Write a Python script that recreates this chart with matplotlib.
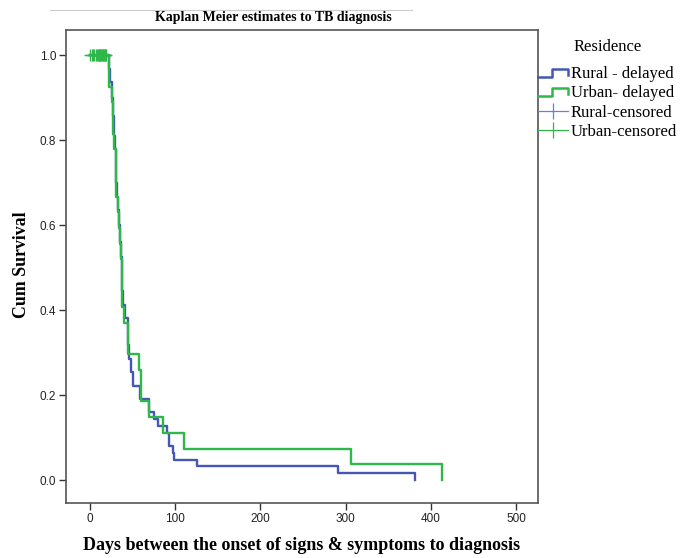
import matplotlib
matplotlib.use("Agg")
import matplotlib.pyplot as plt
from matplotlib.lines import Line2D
from matplotlib.legend_handler import HandlerBase, HandlerLine2D

# ---- data ----
rural_t = [0, 22, 24, 26, 27, 28, 29, 30, 31, 32, 33, 34, 35, 36, 37, 38, 39, 41, 44,
           45, 46, 48, 50, 59, 69, 75, 80, 90, 93, 97, 99, 126, 291, 381]
rural_s = [1.0, 0.968, 0.937, 0.90, 0.857, 0.81, 0.778, 0.73, 0.70, 0.667, 0.635, 0.60,
           0.56, 0.524, 0.476, 0.444, 0.413, 0.381, 0.349, 0.317, 0.286, 0.254, 0.222,
           0.190, 0.159, 0.143, 0.127, 0.111, 0.079, 0.063, 0.048, 0.032, 0.016, 0.0]
urban_t = [0, 22, 26, 27, 28, 30, 31, 33, 34, 35, 36, 37, 38, 40, 44, 57, 60, 69, 86,
           110, 306, 413]
urban_s = [1.0, 0.926, 0.89, 0.815, 0.778, 0.741, 0.667, 0.63, 0.593, 0.556, 0.519,
           0.444, 0.407, 0.370, 0.296, 0.259, 0.185, 0.148, 0.111, 0.074, 0.037, 0.0]
rural_cens = [3, 8, 12, 15, 18]
urban_cens = [0, 2, 5, 7, 9, 10, 11, 12, 13, 14, 15, 16, 17, 18, 19]

xticks = [0, 100, 200, 300, 400, 500]
yticks = [0.0, 0.2, 0.4, 0.6, 0.8, 1.0]
ytick_labels = ["0.0", "0.2", "0.4", "0.6", "0.8", "1.0"]
labels = ["Rural - delayed", "Urban- delayed", "Rural-censored", "Urban-censored"]
title = "Kaplan Meier estimates to TB diagnosis"
xlabel = "Days between the onset of signs & symptoms to diagnosis"
ylabel = "Cum Survival"
legend_title = "Residence"

blue = "#4457b4"
green = "#2fb84a"

W, H = 683, 558
fig = plt.figure(figsize=(W / 100, H / 100), dpi=100)
ax = fig.add_axes([66 / W, 1 - 503 / H, (538 - 66) / W, (503 - 30) / H])

ax.step(rural_t, rural_s, where="post", color=blue, lw=1.7)
ax.step(urban_t, urban_s, where="post", color=green, lw=1.7)
ax.plot(rural_cens, [1.0] * len(rural_cens), linestyle="none", marker="+",
        color="#6b7fd6", markersize=8, mew=1.0)
ax.plot(urban_cens, [1.0] * len(urban_cens), linestyle="none", marker="+",
        color=green, markersize=8, mew=1.0)

ax.set_xlim(-28.2, 525.8)
ax.set_ylim(-0.054, 1.059)
ax.set_xticks(xticks)
ax.set_yticks(yticks)
ax.set_yticklabels(ytick_labels)
for lab in ax.get_xticklabels() + ax.get_yticklabels():
    lab.set_fontfamily("Liberation Sans")
    lab.set_fontsize(8.5)
    lab.set_color("#222222")
ax.tick_params(direction="out", length=5, width=1.0, color="#333333", pad=2)
for sp in ax.spines.values():
    sp.set_color("#555555")
    sp.set_linewidth(1.2)

fig.text(273 / W, 1 - 17 / H, title, ha="center", va="center",
         fontfamily="Liberation Serif", fontweight="bold", fontsize=10)
fig.text(302 / W, 1 - 546 / H, xlabel, ha="center", va="center",
         fontfamily="Liberation Serif", fontweight="bold", fontsize=13)
fig.text(22 / W, 1 - 265 / H, ylabel, ha="center", va="center", rotation=90,
         fontfamily="Liberation Serif", fontweight="bold", fontsize=12.8)
fig.add_artist(Line2D([50 / W, 412 / W], [1 - 9.5 / H, 1 - 9.5 / H],
                      color="#cccccc", lw=0.8, transform=fig.transFigure))
fig.text(608 / W, 1 - 47 / H, legend_title, ha="center", va="center",
         fontfamily="Liberation Serif", fontsize=12)


class StepHandler(HandlerBase):
    def create_artists(self, legend, orig_handle, xdescent, ydescent,
                       width, height, fontsize, trans):
        x0 = -xdescent
        y0 = -ydescent
        xs = [x0, x0 + 0.45 * width, x0 + 0.45 * width, x0 + width, x0 + width]
        ys = [y0 + 0.1 * height, y0 + 0.1 * height, y0 + 0.8 * height,
              y0 + 0.8 * height, y0 + 0.3 * height]
        ln = Line2D(xs, ys, color=orig_handle.get_color(), lw=1.8)
        ln.set_transform(trans)
        return [ln]


h1 = Line2D([], [], color=blue)
h2 = Line2D([], [], color=green)
h3 = Line2D([], [], color="#6b7fd6", lw=0.9, marker="|", markersize=12, mew=0.9)
h4 = Line2D([], [], color=green, lw=0.9, marker="|", markersize=12, mew=0.9)
leg = fig.legend([h1, h2, h3, h4], labels, loc="upper left",
                 bbox_to_anchor=(538 / W, 1 - 66 / H), frameon=False,
                 borderaxespad=0, handlelength=1.8, handletextpad=0.18,
                 labelspacing=0.2, borderpad=0, numpoints=1,
                 handler_map={h1: StepHandler(), h2: StepHandler(),
                              h3: HandlerLine2D(numpoints=1), h4: HandlerLine2D(numpoints=1)},
                 prop={"family": "Liberation Serif", "size": 12})

fig.savefig("out.png", dpi=100)
